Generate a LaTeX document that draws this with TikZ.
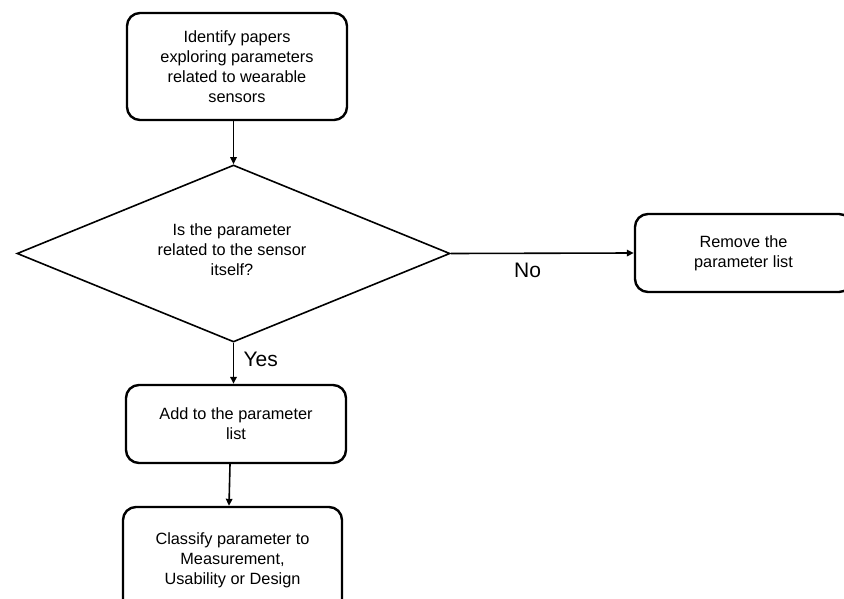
\documentclass[tikz,border=0pt]{standalone}
\usepackage{fontspec}
\setmainfont{Liberation Sans}
\usetikzlibrary{shapes.geometric,arrows.meta}
\begin{document}
\begin{tikzpicture}[x=1pt,y=-1pt,
  every node/.style={font=\fontsize{16.3}{20}\selectfont, align=center, text=black},
  procbox/.style={draw, line width=2.4pt, rounded corners=13pt, inner sep=0pt},
  decide/.style={draw, diamond, line width=1.6pt, inner sep=0pt},
  flow/.style={line width=1.6pt, -{Triangle[length=7pt,width=6.5pt]}},
  lbl/.style={font=\fontsize{21}{24}\selectfont}]
\useasboundingbox (0,0) rectangle (844,599);
\clip (0,0) rectangle (844,599);
\node[procbox, minimum width=220pt, minimum height=107pt] (identify) at (237,66.5)
  {Identify papers\\exploring parameters\\related to wearable\\sensors};
\node[decide, minimum width=433pt, minimum height=177pt] (dia) at (233.5,253.5) {};
\node (q) at (232,250) {Is the parameter\\related to the sensor\\itself?};
\node[procbox, minimum width=217pt, minimum height=78pt] (remove) at (743.5,253)
  {Remove the\\parameter list};
\node[procbox, minimum width=220pt, minimum height=78pt] (add) at (236,424)
  {Add to the parameter\\list};
\node[procbox, minimum width=219pt, minimum height=107pt] (classify) at (232.5,560.5)
  {Classify parameter to\\Measurement,\\Usability or Design};
\draw[flow] (identify.south -| dia.north) -- (dia.north);
\draw[flow] (dia.east) -- (remove.west) node[lbl, pos=0.42, below=6pt] {No};
\draw[flow] (dia.south) -- (add.north -| dia.south) node[lbl, pos=0.4, right=6pt] {Yes};
\draw[flow] (add.south -| 230,0) -- (classify.north -| 229,0);
\end{tikzpicture}
\end{document}
